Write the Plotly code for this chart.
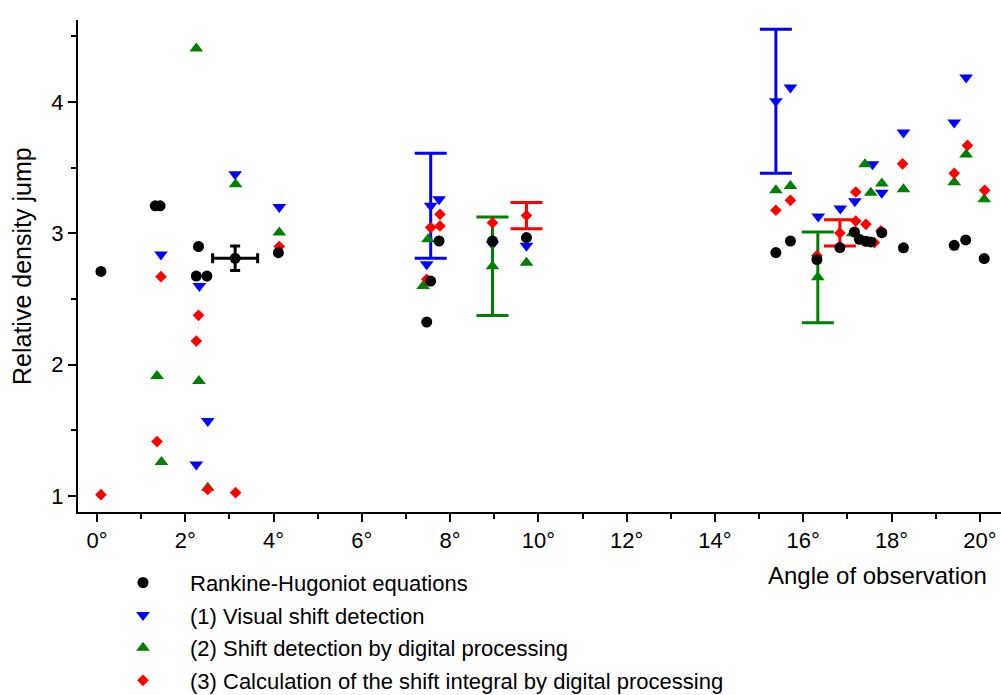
import plotly.graph_objects as go

# ---------------- data ----------------
# Rankine-Hugoniot equations (black circles)
rh_x = [0.09, 1.32, 1.43, 2.30, 2.25, 2.49, 4.11, 7.47, 7.56, 7.75, 8.96, 9.73,
        15.38, 15.71, 16.31, 16.83, 17.16, 17.27, 17.42, 17.53, 17.78, 18.27, 19.42, 19.68, 20.10]
rh_y = [2.71, 3.21, 3.21, 2.90, 2.675, 2.675, 2.853, 2.325, 2.637, 2.942, 2.942, 2.968,
        2.854, 2.942, 2.80, 2.892, 3.01, 2.955, 2.94, 2.935, 3.005, 2.89, 2.909, 2.95, 2.808]
rh_err_x = [3.13]
rh_err_y = [2.81]
rh_err_dx = [0.51]
rh_err_dy = [0.093]

# (1) Visual shift detection (blue down triangles)
vis_x = [1.45, 2.32, 2.51, 2.25, 3.13, 4.13, 7.47, 7.75, 8.96, 9.73,
         15.71, 16.34, 16.84, 17.17, 17.57, 17.78, 18.27, 19.42, 19.69]
vis_y = [2.84, 2.60, 1.571, 1.24, 3.45, 3.20, 2.765, 3.26, 2.917, 2.905,
         4.11, 3.128, 3.19, 3.245, 3.526, 3.31, 3.768, 3.844, 4.187]
vis_err_x = [7.56, 15.38]
vis_err_y = [3.21, 4.006]
vis_err_dy = [0.40, 0.548]

# (2) Shift detection by digital processing (green up triangles)
dig_x = [1.36, 1.46, 2.25, 2.31, 2.51, 3.14, 4.13, 7.39, 7.50, 9.73,
         15.38, 15.71, 17.12, 17.40, 17.53, 17.78, 18.27, 19.42, 19.69, 20.10]
dig_y = [1.914, 1.259, 4.407, 1.876, 1.063, 3.374, 3.006, 2.60, 2.955, 2.777,
         3.328, 3.361, 3.0, 3.526, 3.31, 3.38, 3.336, 3.39, 3.60, 3.26]
dig_err_x = [8.96, 16.33]
dig_err_y = [2.75, 2.665]
dig_err_dy = [0.375, 0.345]

# (3) Calculation of the shift integral by digital processing (red diamonds)
int_x = [0.09, 1.36, 1.45, 2.30, 2.25, 2.51, 3.14, 4.13, 7.47, 7.56, 7.77, 7.77, 8.96,
         15.38, 15.71, 16.31, 17.19, 17.19, 17.42, 17.61, 17.76, 18.25, 19.42, 19.72, 20.11]
int_y = [1.01, 1.414, 2.67, 2.376, 2.18, 1.05, 1.025, 2.90, 2.65, 3.044, 3.056, 3.145, 3.08,
         3.176, 3.252, 2.83, 3.315, 3.094, 3.069, 2.93, 3.02, 3.53, 3.457, 3.67, 3.328]
int_err_x = [9.73, 16.83]
int_err_y = [3.136, 3.003]
int_err_dy = [0.10, 0.10]

x_tick_vals = list(range(0, 21, 2))
x_tick_text = [f"{v}°" for v in x_tick_vals]
y_tick_vals = [1, 2, 3, 4]

names = ["Rankine-Hugoniot equations",
         "(1) Visual shift detection",
         "(2) Shift detection by digital processing",
         "(3) Calculation of the shift integral by digital processing"]

# ---------------- figure ----------------
BLACK, BLUE, GREEN, RED = "#000000", "#0000FF", "#008000", "#FF0000"
FONT = "Arial, Liberation Sans, sans-serif"

fig = go.Figure()

m_vis = dict(symbol="triangle-down", size=12, color=BLUE)
m_dig = dict(symbol="triangle-up", size=12, color=GREEN)
m_int = dict(symbol="diamond", size=9, color=RED)
m_rh = dict(symbol="circle", size=11, color=BLACK)

# blue
fig.add_trace(go.Scatter(x=vis_err_x, y=vis_err_y, mode="markers", marker=m_vis, showlegend=False,
                         error_y=dict(type="data", array=vis_err_dy, color=BLUE, thickness=3, width=16)))
fig.add_trace(go.Scatter(x=vis_x, y=vis_y, mode="markers", marker=m_vis, name=names[1],
                         legendrank=2, legendgroup="b"))
# green
fig.add_trace(go.Scatter(x=dig_err_x, y=dig_err_y, mode="markers", marker=m_dig, showlegend=False,
                         error_y=dict(type="data", array=dig_err_dy, color=GREEN, thickness=3, width=16)))
fig.add_trace(go.Scatter(x=dig_x, y=dig_y, mode="markers", marker=m_dig, name=names[2],
                         legendrank=3, legendgroup="c"))
# red
fig.add_trace(go.Scatter(x=int_err_x, y=int_err_y, mode="markers", marker=m_int, showlegend=False,
                         error_y=dict(type="data", array=int_err_dy, color=RED, thickness=3, width=16)))
fig.add_trace(go.Scatter(x=int_x, y=int_y, mode="markers", marker=m_int, name=names[3],
                         legendrank=4, legendgroup="d"))
# black
fig.add_trace(go.Scatter(x=rh_err_x, y=rh_err_y, mode="markers", marker=m_rh, showlegend=False,
                         error_x=dict(type="data", array=rh_err_dx, color=BLACK, thickness=3, width=5),
                         error_y=dict(type="data", array=rh_err_dy, color=BLACK, thickness=3, width=5)))
fig.add_trace(go.Scatter(x=rh_x, y=rh_y, mode="markers", marker=m_rh, name=names[0],
                         legendrank=1, legendgroup="a"))

axis_common = dict(showgrid=False, zeroline=False, showline=True, linecolor="black", linewidth=2,
                   ticks="outside", ticklen=8, tickwidth=2, tickcolor="black",
                   tickfont=dict(family=FONT, size=22, color="black"))

fig.update_xaxes(range=[-0.43, 20.48], tickvals=x_tick_vals, ticktext=x_tick_text,
                 minor=dict(dtick=1, tick0=0, ticks="outside", ticklen=5, tickwidth=2, tickcolor="black"),
                 **axis_common)
fig.update_yaxes(range=[0.878, 4.625], tickvals=y_tick_vals,
                 minor=dict(dtick=0.5, tick0=0, ticks="outside", ticklen=5, tickwidth=2, tickcolor="black"),
                 **axis_common)

fig.update_layout(
    width=1001, height=695,
    margin=dict(l=78, r=0, t=20, b=183, autoexpand=False),
    paper_bgcolor="white", plot_bgcolor="white",
    font=dict(family=FONT, size=22, color="black"),
    legend=dict(x=0.0195, y=-0.101, xanchor="left", yanchor="top", itemwidth=84,
                tracegroupgap=1, font=dict(family=FONT, size=22, color="black"),
                bgcolor="rgba(0,0,0,0)"),
    annotations=[
        dict(text="Angle of observation", xref="paper", yref="paper", x=(989 - 78) / 923,
             y=(512 - 575) / 492, xanchor="right", yanchor="middle", showarrow=False,
             font=dict(family=FONT, size=24, color="black")),
        dict(text="Relative density jump", xref="paper", yref="paper", x=(22 - 78) / 923,
             y=(512 - 266) / 492, xanchor="center", yanchor="middle", textangle=-90, showarrow=False,
             font=dict(family=FONT, size=25, color="black")),
    ],
)

fig.write_html("out.html")
